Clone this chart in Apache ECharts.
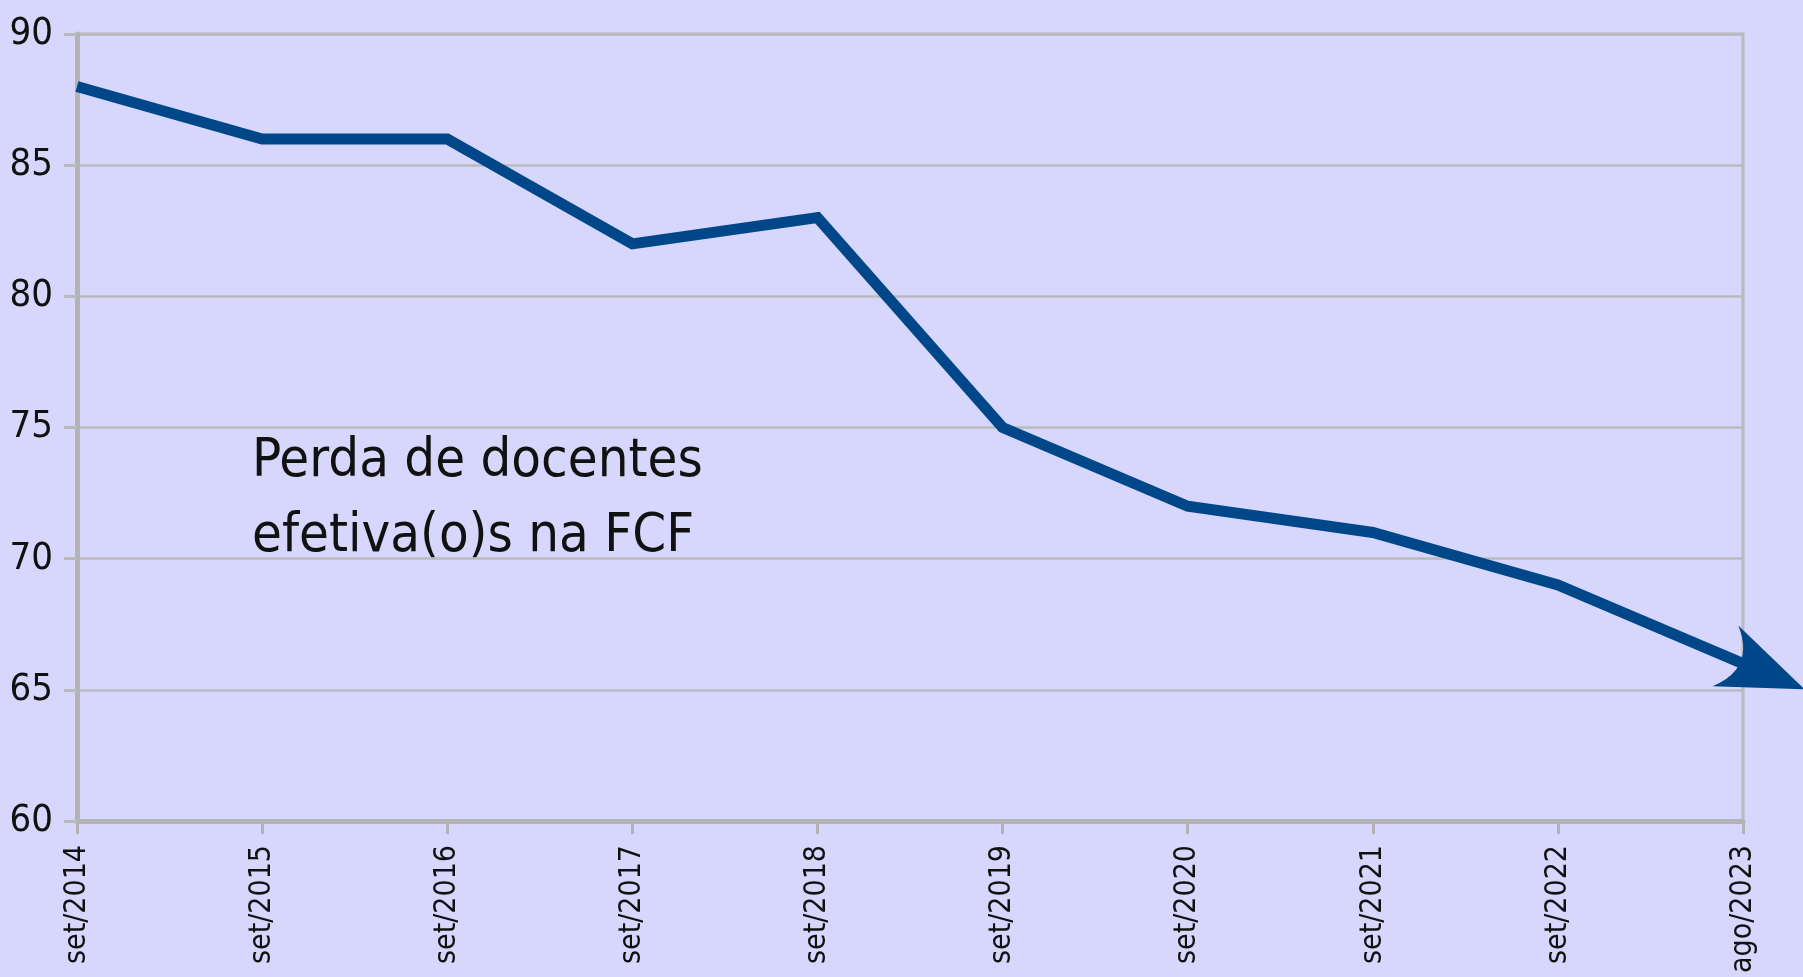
<!DOCTYPE html>
<html>
<head>
<meta charset="utf-8">
<script src="https://cdn.jsdelivr.net/npm/echarts@6/dist/echarts.min.js"></script>
<style>
html,body{margin:0;padding:0;background:#d7d7fe;}
#chart{width:1803px;height:977px;}
</style>
</head>
<body>
<div id="chart"></div>
<script>
const categories = ['set/2014','set/2015','set/2016','set/2017','set/2018','set/2019','set/2020','set/2021','set/2022','ago/2023'];
const docentes = [88, 86, 86, 82, 83, 75, 72, 71, 69, 66];
const annotation = 'Perda de docentes\nefetiva(o)s na FCF';

const lineColor = '#00478a';
const gridColor = '#bababa';

const seriesData = docentes.map((v, i) => {
  if (i === docentes.length - 1) {
    return {
      value: v,
      symbol: 'path://M50 0 L100 100 Q50 62 0 100 Z',
      symbolSize: [66, 86],
      symbolRotate: -113,
      symbolOffset: [22, 9]
    };
  }
  return { value: v, symbol: 'none' };
});

const chart = echarts.init(document.getElementById('chart'), null, {renderer: 'canvas'});
chart.setOption({
  animation: false,
  backgroundColor: '#d7d7fe',
  grid: {
    left: 77, right: 60, top: 34, bottom: 156,
    show: true, borderColor: gridColor, borderWidth: 3, backgroundColor: 'transparent'
  },
  xAxis: {
    type: 'category',
    data: categories,
    boundaryGap: false,
    axisLine: {lineStyle: {color: '#b3b3b3', width: 5}},
    axisTick: {show: true, length: 13, lineStyle: {color: '#b3b3b3', width: 3}},
    axisLabel: {
      rotate: 90, margin: 24, color: '#111',
      fontFamily: '"DejaVu Sans Condensed", "Liberation Sans Narrow", sans-serif',
      fontSize: 30, interval: 0
    },
    splitLine: {show: false}
  },
  yAxis: {
    type: 'value',
    min: 60, max: 90, interval: 5,
    axisLine: {show: true, lineStyle: {color: '#b3b3b3', width: 5}},
    axisTick: {show: true, length: 13, lineStyle: {color: gridColor, width: 3}},
    axisLabel: {
      margin: 24, color: '#111',
      fontFamily: '"Liberation Sans Narrow", "DejaVu Sans Condensed", sans-serif',
      fontSize: 38
    },
    splitLine: {show: true, lineStyle: {color: gridColor, width: 2.5}}
  },
  graphic: [{
    type: 'text',
    left: 252, top: 424,
    style: {
      text: annotation,
      fill: '#111',
      font: '54px "DejaVu Sans Condensed", "Liberation Sans Narrow", sans-serif',
      lineHeight: 75
    }
  }],
  series: [{
    type: 'line',
    data: seriesData,
    showSymbol: true,
    symbol: 'none',
    lineStyle: {color: lineColor, width: 11, cap: 'butt', join: 'miter'},
    itemStyle: {color: lineColor},
    clip: false,
    silent: true,
    z: 5
  }]
});
</script>
</body>
</html>
